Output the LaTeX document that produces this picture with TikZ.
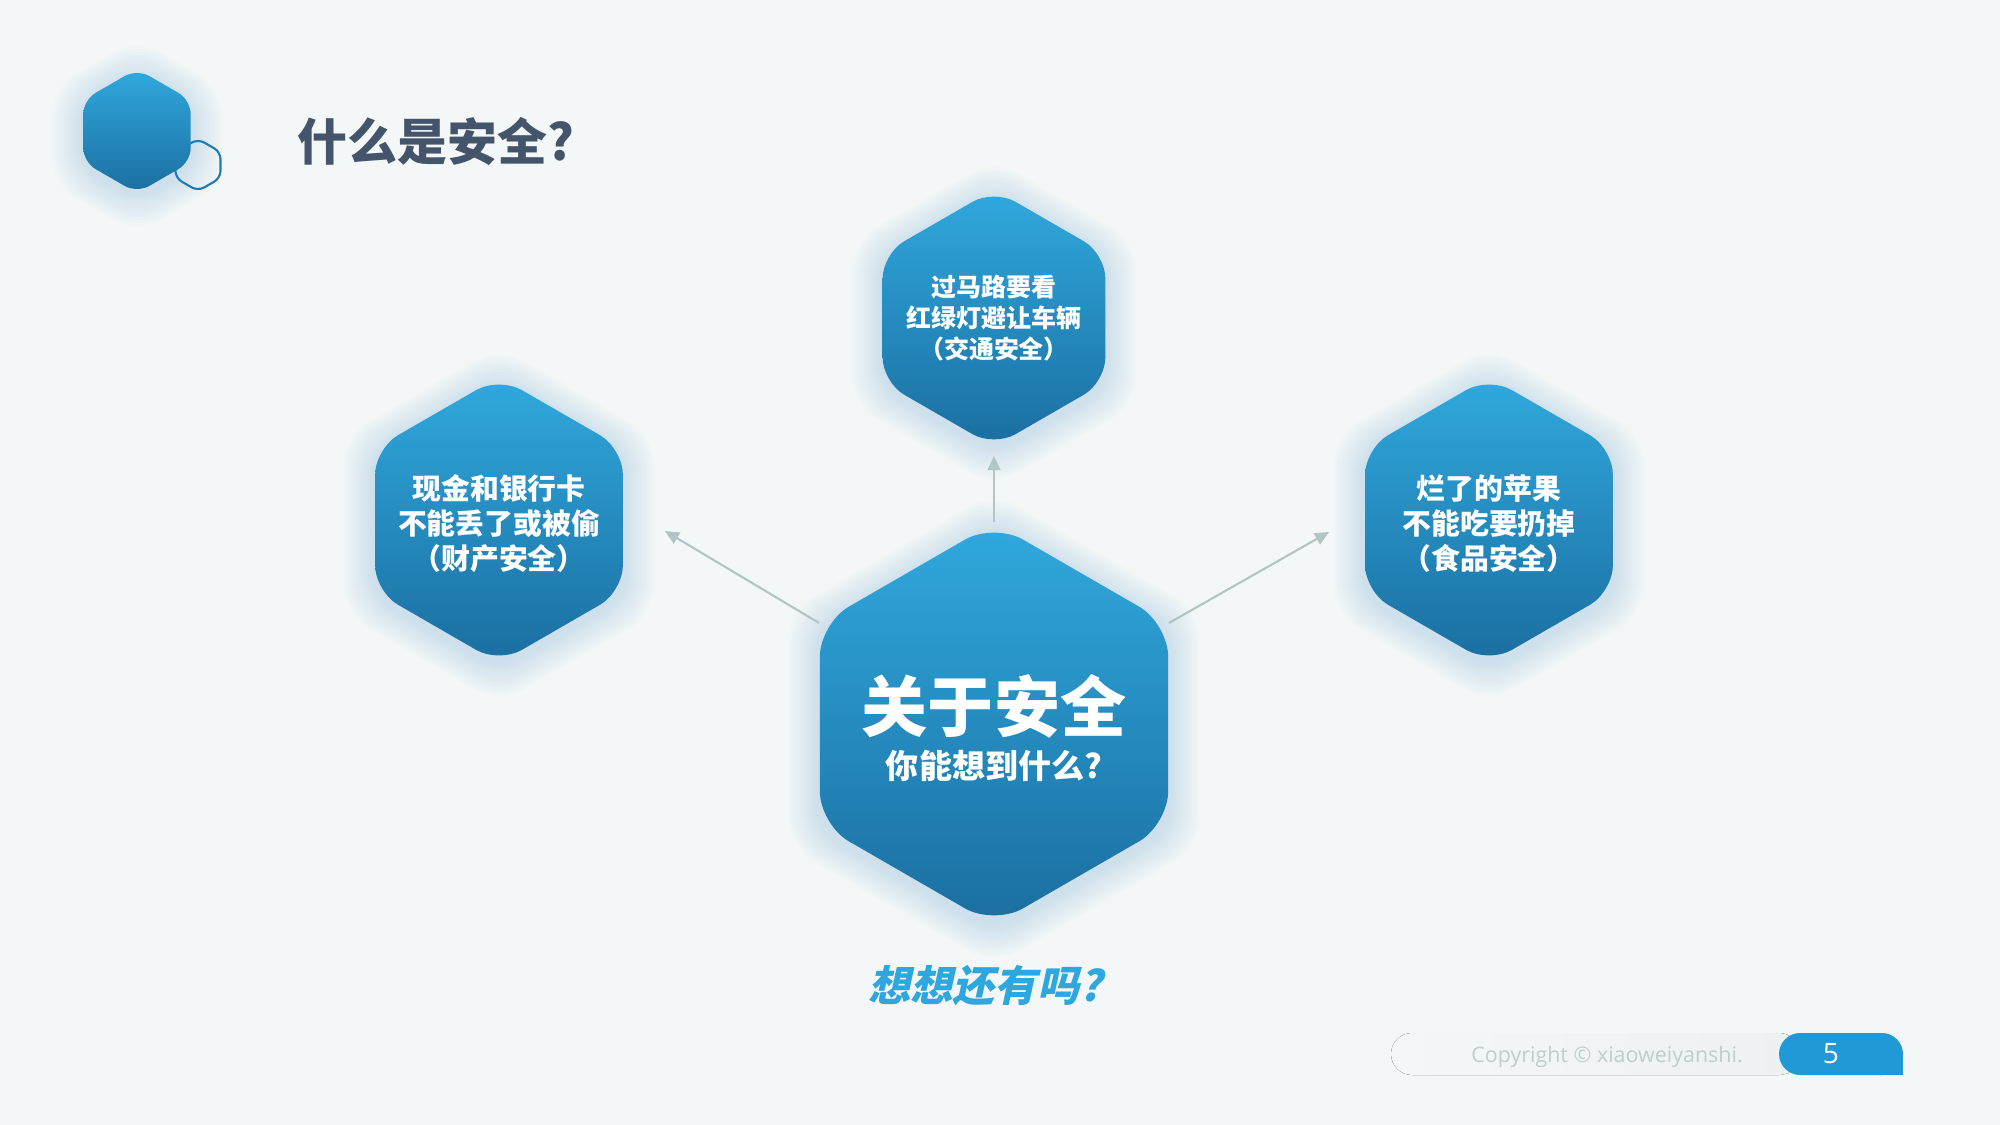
\documentclass[tikz,border=0pt]{standalone}
\usepackage{fontspec}
\newfontfamily\cjk{Noto Sans CJK SC}
\newfontfamily\cjkslant{Noto Sans CJK SC}[FakeSlant=0.22]
\newfontfamily\footfont{Open Sans}
\usetikzlibrary{shapes.geometric,arrows.meta}

\definecolor{pagebg}{HTML}{F4F7F7}
\definecolor{hextop}{HTML}{30A9DE}
\definecolor{hexbot}{HTML}{1B6EA0}
\definecolor{glowblue}{HTML}{8CC3E3}
\definecolor{titlegray}{HTML}{44546A}
\definecolor{arrowgray}{HTML}{B2C5C5}
\definecolor{askblue}{HTML}{2EA6DE}
\definecolor{footgray}{HTML}{C0CDCD}
\definecolor{footpill}{HTML}{EDF1F1}
\definecolor{pageblue}{HTML}{2199D6}
\definecolor{ringblue}{HTML}{1F7BB3}

% soft halo behind a hexagon: centre x, centre y, radius (px)
\newcommand{\hexglow}[3]{%
  \foreach \k in {1,...,12}{
    \fill[glowblue, fill opacity=0.03, rounded corners=8pt]
      (#1,#2+5) +(0:{0.866*(#3+3*\k)}) -- +(30:{#3+3*\k}) -- +(90:{#3+3*\k})
      -- +(150:{#3+3*\k}) -- +(210:{#3+3*\k}) -- +(270:{#3+3*\k})
      -- +(330:{#3+3*\k}) -- cycle;
  }
}

\begin{document}
\begin{tikzpicture}[x=0.01cm,y=-0.01cm,
    hexcell/.style={regular polygon, regular polygon sides=6, shape border rotate=30,
      inner sep=0pt, top color=hextop, bottom color=hexbot},
    celltext/.style={text=white, align=center, inner sep=0pt},
    link/.style={->, arrowgray, line width=0.6pt},
    >={Triangle[length=4pt,width=3.6pt]}]
    \useasboundingbox (0,0) rectangle (2000,1125);
    \fill[pagebg] (0,0) rectangle (2000,1125);

    % Halos
    \hexglow{137}{131}{62}
    \hexglow{994}{318}{128}
    \hexglow{499}{520}{143}
    \hexglow{1489}{520}{143}
    \hexglow{994}{724}{201}

    % Logo and title
    \node[regular polygon, regular polygon sides=6, shape border rotate=30,
          minimum size=0.52cm, inner sep=0pt, draw=ringblue, line width=0.6pt,
          rounded corners=2pt] (ring) at (198,165) {};
    \node[hexcell, minimum size=1.24cm, rounded corners=4pt] (logo) at (137,131) {};
    \node[anchor=west, inner sep=0pt, text=titlegray,
          font=\cjk\bfseries\fontsize{14.2}{17}\selectfont] (title) at (297,142) {什么是安全?};

    % Cells
    \node[hexcell, minimum size=2.57cm, rounded corners=7pt] (traffic) at (994,318) {};
    \node[hexcell, minimum size=2.86cm, rounded corners=7.5pt] (money) at (499,520) {};
    \node[hexcell, minimum size=2.86cm, rounded corners=7.5pt] (food) at (1489,520) {};
    \node[hexcell, minimum size=4.02cm, rounded corners=9.5pt] (core) at (994,724) {};

    \node[celltext, font=\cjk\bfseries\fontsize{7.1}{8.8}\selectfont] (trafficlabel)
          at (traffic) {过马路要看\\红绿灯避让车辆\\（交通安全）};
    \node[celltext, font=\cjk\bfseries\fontsize{8.2}{10}\selectfont] (moneylabel)
          at ([yshift=-1pt]money.center) {现金和银行卡\\不能丢了或被偷\\（财产安全）};
    \node[celltext, font=\cjk\bfseries\fontsize{8.2}{10}\selectfont] (foodlabel)
          at ([yshift=-1pt]food.center) {烂了的苹果\\不能吃要扔掉\\（食品安全）};
    \node[celltext, font=\cjk\bfseries\fontsize{9.4}{13.4}\selectfont] (corelabel)
          at (994,728) {{\fontsize{18.8}{13.4}\selectfont 关于安全}\\你能想到什么?};

    % Arrows
    \coordinate (tipL) at (665,531);
    \coordinate (tipT) at (994,456);
    \coordinate (tipR) at (1329,532);
    \draw[link] (core.150) -- (tipL);
    \draw[link] (core.90) -- (tipT);
    \draw[link] (core.30) -- (tipR);

    \node[text=askblue, font=\cjkslant\bfseries\fontsize{12}{14}\selectfont] (ask)
          at (985,986) {想想还有吗?};

    % Footer
    \fill[left color=pagebg, right color=footpill, rounded corners=6pt]
          (1391,1033) rectangle (1800,1075);
    \node[text=footgray, font=\footfont\fontsize{6.1}{8}\selectfont] (copy)
          at (1607,1057) {Copyright © xiaoweiyanshi.};
    \fill[pageblue, rounded corners=6pt] (1779,1033) rectangle (1903,1075);
    \fill[pageblue] (1860,1054) rectangle (1903,1075);
    \node[text=white, font=\footfont\fontsize{8}{9}\selectfont] (pagenum) at (1831,1054) {5};
\end{tikzpicture}
\end{document}
